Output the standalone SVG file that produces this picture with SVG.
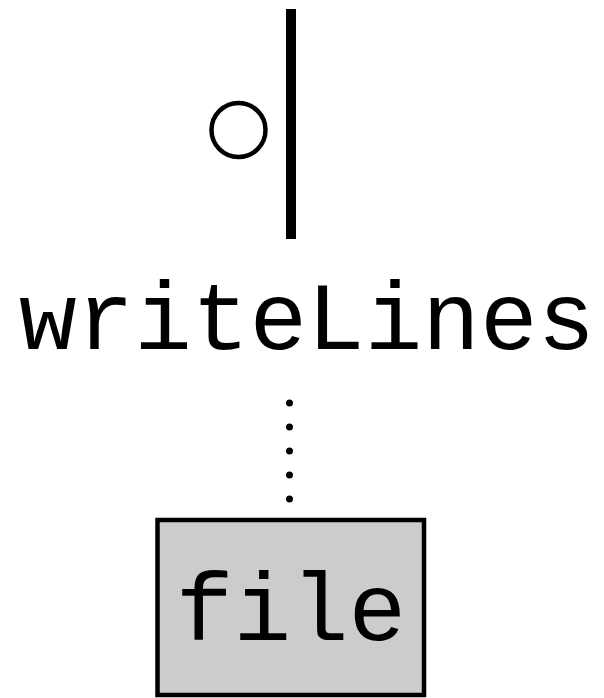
<svg xmlns="http://www.w3.org/2000/svg" width="604" height="698" viewBox="0 0 604 698">
<style>
.lbl{font-family:"Liberation Mono","Courier New",monospace;font-size:96px;fill:#000}
</style>
<rect width="604" height="698" fill="#fff"/>
<g id="interface">
<line x1="291" y1="9" x2="291" y2="239" stroke="#000" stroke-width="10"/>
<circle cx="238.5" cy="130" r="27" fill="none" stroke="#000" stroke-width="4.5"/>
</g>
<g id="writeLines">
<text class="lbl" x="19" y="349">writeLines</text>
</g>
<g id="connectors">
<line x1="289.5" y1="403" x2="289.5" y2="500" stroke="#000" stroke-width="7" stroke-linecap="round" stroke-dasharray="0 24"/>
</g>
<g id="file">
<rect x="157.5" y="520" width="266.5" height="175" fill="#cccccc" stroke="#000" stroke-width="4.5"/>
<text class="lbl" x="291" y="640" text-anchor="middle">file</text>
</g>
</svg>
